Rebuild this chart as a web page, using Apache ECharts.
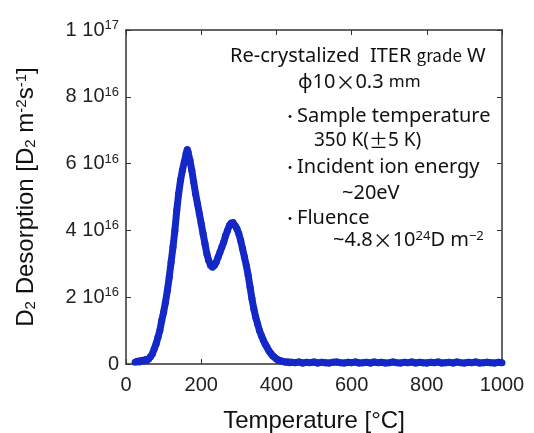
<!DOCTYPE html>
<html>
<head>
<meta charset="utf-8">
<script src="https://cdn.jsdelivr.net/npm/echarts@6/dist/echarts.min.js"></script>
<style>
html, body { margin: 0; padding: 0; background: #fff; }
#chart { width: 534px; height: 433px; }
</style>
</head>
<body>
<div id="chart"></div>
<script>
// 温度 [°C]
var temps = [
    24, 30, 35, 40, 45, 50, 55, 60, 65, 70, 75, 80, 85, 90, 95, 100, 105, 110, 115, 120,
    125, 130, 135, 140, 145, 150, 155, 160, 163, 165, 170, 175, 180, 185, 190, 195, 200,
    205, 210, 215, 220, 225, 230, 235, 240, 245, 250, 255, 260, 265, 270, 275, 280, 285,
    290, 295, 300, 305, 310, 315, 320, 325, 330, 335, 340, 345, 350, 355, 360, 365, 370,
    375, 380, 385, 390, 395, 400, 405, 410, 415, 420, 425, 430, 435, 440,
    450, 460, 470, 480, 490, 500, 510, 520, 530, 540, 550, 560, 570, 580, 590, 600,
    610, 620, 630, 640, 650, 660, 670, 680, 690, 700, 710, 720, 730, 740, 750, 760,
    770, 780, 790, 800, 810, 820, 830, 840, 850, 860, 870, 880, 890, 900, 910, 920,
    930, 940, 950, 960, 970, 980, 990, 1000
];
// D2 脱離量 [1e16 D2 m^-2 s^-1]
var desorption = [
    0.05, 0.08, 0.06, 0.1, 0.08, 0.12, 0.1, 0.15, 0.22, 0.3, 0.45, 0.6, 0.8, 1.0, 1.3, 1.55, 1.85, 2.2, 2.6, 3.05,
    3.5, 4.0, 4.6, 5.1, 5.5, 5.8, 6.05, 6.3, 6.42, 6.35, 6.1, 5.8, 5.45, 5.1, 4.8, 4.5, 4.2,
    3.9, 3.6, 3.3, 3.1, 2.95, 2.9, 2.95, 3.05, 3.2, 3.35, 3.5, 3.65, 3.85, 4.0, 4.15, 4.22, 4.24,
    4.15, 4.05, 3.9, 3.7, 3.45, 3.2, 2.95, 2.65, 2.3, 1.95, 1.65, 1.4, 1.2, 1.0, 0.85, 0.72, 0.6,
    0.5, 0.4, 0.32, 0.25, 0.2, 0.15, 0.12, 0.1, 0.08, 0.07, 0.05, 0.06, 0.04, 0.05,
    0.04, 0.06, 0.03, 0.05, 0.04, 0.06, 0.03, 0.05, 0.04, 0.03, 0.05, 0.06, 0.04, 0.03, 0.05, 0.04,
    0.06, 0.03, 0.04, 0.05, 0.03, 0.06, 0.04, 0.05, 0.03, 0.04, 0.06, 0.04, 0.03, 0.05, 0.04, 0.06,
    0.03, 0.05, 0.04, 0.03, 0.05, 0.04, 0.06, 0.03, 0.04, 0.05, 0.03, 0.06, 0.04, 0.03, 0.05, 0.04,
    0.06, 0.03, 0.04, 0.05, 0.04, 0.03, 0.05, 0.04, 0.06
];
var xTicks = [0, 200, 400, 600, 800, 1000];
var yTicks = [0, 2, 4, 6, 8, 10];

var points = temps.map(function (t, i) { return [t, desorption[i]]; });

var axisColor = '#333';
var font = 'Liberation Sans, Arial, sans-serif';
var noteFont = 'Noto Sans';
var jpFont = 'Noto Sans CJK JP';

// 注記テキスト
function note(left, top, text, size, rich) {
    return {
        type: 'text', left: left, top: top,
        style: { text: text, fontFamily: noteFont, fontSize: size, fill: '#111', rich: rich || {} }
    };
}
var bulletRich = { b: { fontFamily: jpFont, fontSize: 14, fill: '#111' } };

var myChart = echarts.init(document.getElementById('chart'));

var option = {
    animation: false,
    grid: { left: 126, right: 32, top: 30, bottom: 69, containLabel: false, outerBoundsMode: 'none' },
    xAxis: [
        {
            type: 'value',
            min: xTicks[0], max: xTicks[xTicks.length - 1], interval: xTicks[1] - xTicks[0],
            name: 'Temperature [°C]',
            nameLocation: 'middle',
            nameGap: 45,
            nameTextStyle: { fontFamily: font, fontSize: 24, color: '#111' },
            axisLine: { onZero: false, lineStyle: { color: axisColor, width: 1.5 } },
            axisTick: { inside: true, length: 5, lineStyle: { color: axisColor } },
            axisLabel: {
                fontFamily: font, fontSize: 20, color: '#222', margin: 11,
                formatter: function (v) { return String(v); }
            },
            splitLine: { show: false }
        },
        {
            type: 'value', position: 'top',
            min: xTicks[0], max: xTicks[xTicks.length - 1], interval: xTicks[1] - xTicks[0],
            axisLine: { show: true, onZero: false, lineStyle: { color: axisColor, width: 1.5 } },
            axisTick: { show: true, inside: true, length: 5, lineStyle: { color: axisColor } },
            axisLabel: { show: false },
            splitLine: { show: false }
        }
    ],
    yAxis: [
        {
            type: 'value',
            min: yTicks[0], max: yTicks[yTicks.length - 1], interval: yTicks[1] - yTicks[0],
            name: 'D{sub|2} Desorption [D{sub|2} m{sup|-2}s{sup|-1}]',
            nameLocation: 'middle',
            nameGap: 88,
            nameTextStyle: {
                fontFamily: font, fontSize: 24, color: '#111',
                rich: {
                    sub: { fontFamily: font, fontSize: 15, verticalAlign: 'bottom', padding: [9, 0, 0, 0] },
                    sup: { fontFamily: font, fontSize: 15, verticalAlign: 'top', padding: [0, 0, 9, 0] }
                }
            },
            axisLine: { onZero: false, lineStyle: { color: axisColor, width: 1.5 } },
            axisTick: { inside: true, length: 5, lineStyle: { color: axisColor } },
            axisLabel: {
                fontFamily: font, fontSize: 20, color: '#222', margin: 7,
                formatter: function (v) {
                    if (v === 0) return '0';
                    if (v === 10) return '1 10{sup|17}';
                    return v + ' 10{sup|16}';
                },
                rich: {
                    sup: { fontFamily: font, fontSize: 13, color: '#222', verticalAlign: 'top', padding: [0, 0, 9, 0] }
                }
            },
            splitLine: { show: false }
        },
        {
            type: 'value', position: 'right',
            min: yTicks[0], max: yTicks[yTicks.length - 1], interval: yTicks[1] - yTicks[0],
            axisLine: { show: true, onZero: false, lineStyle: { color: axisColor, width: 1.5 } },
            axisTick: { show: true, inside: true, length: 5, lineStyle: { color: axisColor } },
            axisLabel: { show: false },
            splitLine: { show: false }
        }
    ],
    graphic: [
        note(230, 46, 'Re-crystalized  {j|ITER} {s|grade} {j|W}', 20, {
            j: { fontFamily: noteFont, fontSize: 20, fill: '#111' },
            s: { fontFamily: jpFont, fontSize: 17, fill: '#111' }
        }),
        note(298, 72, 'φ10{x|×}0.3 {s|mm}', 20, {
            x: { fontFamily: jpFont, fontSize: 20, fill: '#111' },
            s: { fontFamily: noteFont, fontSize: 17, fill: '#111' }
        }),
        note(283, 106, '{b|・}Sample temperature', 20, bulletRich),
        note(314, 131, '350 K({j|±}5 K)', 19, {
            j: { fontFamily: jpFont, fontSize: 19, fill: '#111' }
        }),
        note(283, 157, '{b|・}Incident ion energy', 20, bulletRich),
        note(342, 183, '~20eV', 20),
        note(283, 208, '{b|・}Fluence', 20, bulletRich),
        note(333, 230, '~4.8{x|×}10{sup|24}D m{sup|−2}', 20, {
            x: { fontFamily: jpFont, fontSize: 20, fill: '#111' },
            sup: { fontFamily: noteFont, fontSize: 13, fill: '#111', verticalAlign: 'top', padding: [0, 0, 8, 0] }
        })
    ],
    series: [
        {
            type: 'line',
            xAxisIndex: 0,
            yAxisIndex: 0,
            data: points,
            symbol: 'circle',
            symbolSize: 7,
            showSymbol: true,
            itemStyle: { color: '#1428c8' },
            lineStyle: { color: '#1428c8', width: 7 },
            z: 5
        }
    ]
};

myChart.setOption(option);
</script>
</body>
</html>
